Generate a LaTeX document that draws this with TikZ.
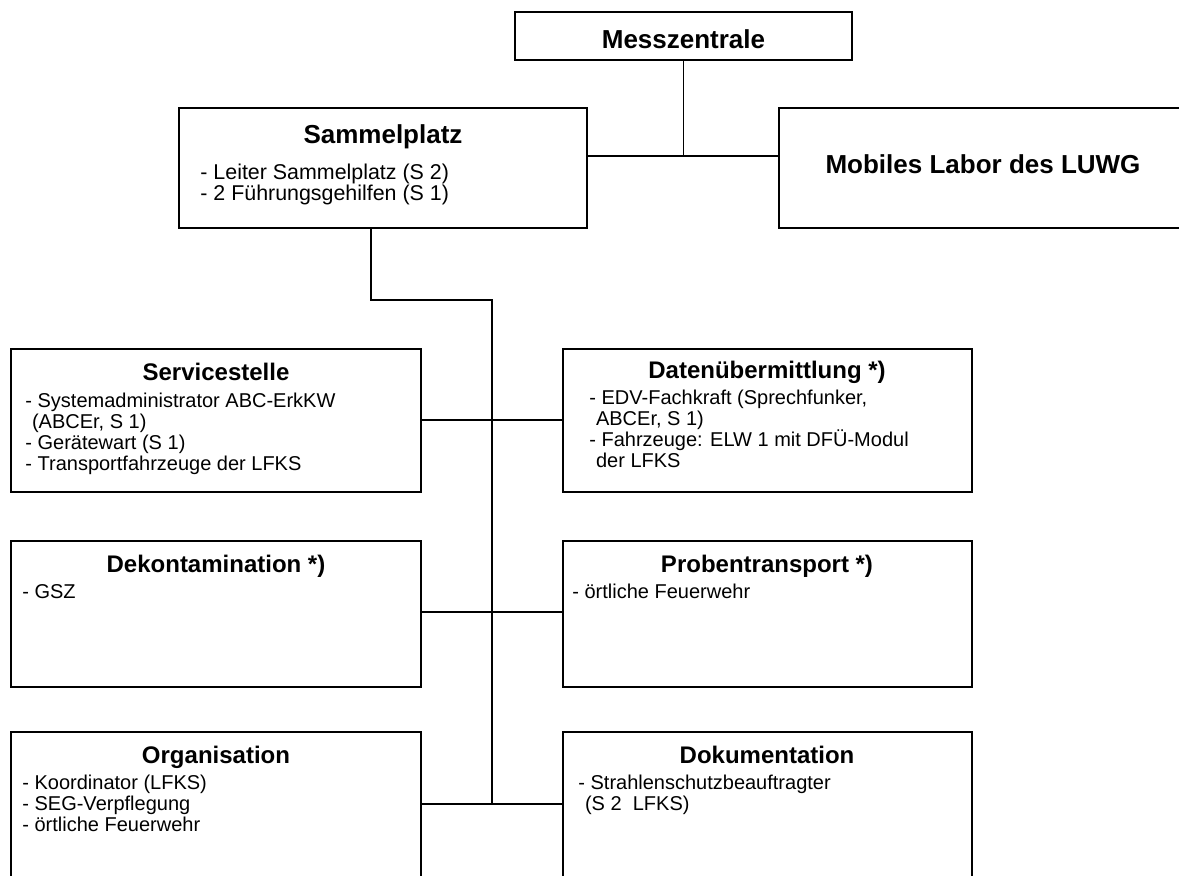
\documentclass[tikz,border=0pt]{standalone}
\usepackage{fontspec}
\setmainfont{Liberation Sans}
\usetikzlibrary{fit}

\tikzset{
  box/.style={draw, line width=0.8pt, inner sep=0pt},
  link/.style={line width=0.7pt},
  bigtitle/.style={font=\fontsize{13}{15}\selectfont\bfseries, inner sep=0pt, anchor=base},
  smalltitle/.style={font=\fontsize{12}{14}\selectfont\bfseries, inner sep=0pt, anchor=base},
  bigbody/.style={font=\fontsize{10.7}{10.5}\selectfont, align=left, inner sep=0pt, anchor=base west},
  smallbody/.style={font=\fontsize{10}{10.5}\selectfont, align=left, inner sep=0pt, anchor=base west}
}

\begin{document}
\begin{tikzpicture}[x=0.5pt,y=-0.5pt]
        \useasboundingbox (0,0) rectangle (1179,875);
        \clip (0,0) rectangle (1179,875);

        % the boxes (the right and lower ones run off the page)
        \node[box, fit={(515,12) (852,60)}] (mess) {};
        \node[box, fit={(179,108) (587,228)}] (samm) {};
        \node[box, fit={(779,108) (1187,228)}] (mobil) {};
        \node[box, fit={(11,349) (421,492)}] (serv) {};
        \node[box, fit={(563,349) (972,492)}] (daten) {};
        \node[box, fit={(11,541) (421,687)}] (dekon) {};
        \node[box, fit={(563,541) (972,687)}] (proben) {};
        \node[box, fit={(11,732) (421,900)}] (orga) {};
        \node[box, fit={(563,732) (972,900)}] (doku) {};

        % the headings
        \node[bigtitle] (messT) at (683.5,48) {Messzentrale};
        \node[bigtitle] (sammT) at (383,143) {Sammelplatz};
        \node[bigtitle] (mobilT) at (983,173) {Mobiles Labor des LUWG};
        \node[smalltitle] (servT) at (216,380) {Servicestelle};
        \node[smalltitle] (datenT) at (767,378) {Datenübermittlung *)};
        \node[smalltitle] (dekonT) at (216,572) {Dekontamination *)};
        \node[smalltitle] (probenT) at (767,572) {Probentransport *)};
        \node[smalltitle] (orgaT) at (216,763) {Organisation};
        \node[smalltitle] (dokuT) at (767,763) {Dokumentation};

        % the lists below the headings (placed at the last line)
        \node[bigbody] (sammL) at (200,200) {- Leiter Sammelplatz (S 2)\\- 2 Führungsgehilfen (S 1)};
        \node[smallbody] (servL) at (25,470) {- Systemadministrator ABC-ErkKW\\\hphantom{-}(ABCEr, S 1)\\- Gerätewart (S 1)\\- Transportfahrzeuge der LFKS};
        \node[smallbody] (datenL) at (589,467) {- EDV-Fachkraft (Sprechfunker,\\\hphantom{-}ABCEr, S 1)\\- Fahrzeuge: ELW 1 mit DFÜ-Modul\\\hphantom{-}der LFKS};
        \node[smallbody] (dekonL) at (22,598) {- GSZ};
        \node[smallbody] (probenL) at (572,598) {- örtliche Feuerwehr};
        \node[smallbody] (orgaL) at (22,831) {- Koordinator (LFKS)\\- SEG-Verpflegung\\- örtliche Feuerwehr};
        \node[smallbody] (dokuL) at (578,810) {- Strahlenschutzbeauftragter\\\hphantom{-}(S 2\ \ LFKS)};

        % the connectors
        \coordinate (mj) at (683.5,156);
        \coordinate (sj) at (371,300);
        \coordinate (vtop) at (492,300);
        \coordinate (r1) at (492,420);
        \coordinate (r2) at (492,612);
        \coordinate (r3) at (492,804);

        \draw[link] (mess.south) -- (mj);
        \draw[link] (samm.east |- mj) -- (mobil.west |- mj);
        \draw[link] (samm.south -| sj) -- (sj) -- (vtop) -- (r3);
        \draw[link] (serv.east |- r1) -- (daten.west |- r1);
        \draw[link] (dekon.east |- r2) -- (proben.west |- r2);
        \draw[link] (orga.east |- r3) -- (doku.west |- r3);
\end{tikzpicture}
\end{document}
